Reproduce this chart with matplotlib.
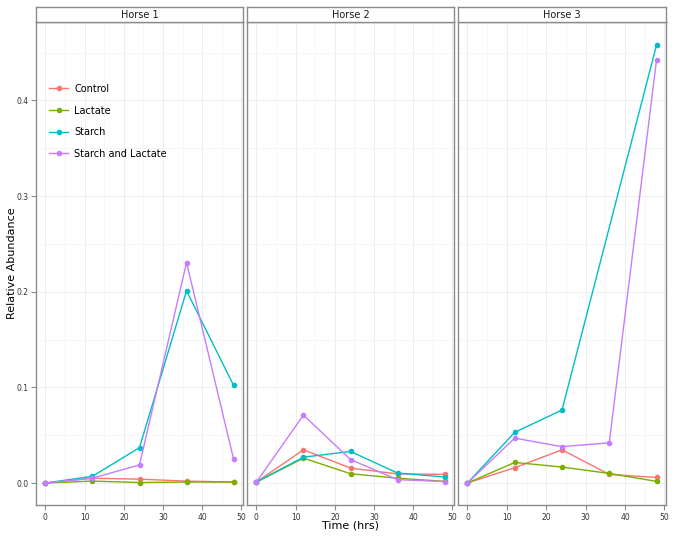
import matplotlib.pyplot as plt

times = [0, 12, 24, 36, 48]
horses = ['Horse 1', 'Horse 2', 'Horse 3']
treatments = ['Control', 'Lactate', 'Starch', 'Starch and Lactate']
colors = ['#F8766D', '#7CAE00', '#00BFC4', '#C77CFF']

# relative abundance per horse (rows) at each time point; None = no sample
control = [[0.0, 0.005, 0.004, 0.002, 0.001],
           [0.001, 0.0347, 0.0156, 0.0095, 0.009],
           [0.0, 0.016, 0.0347, 0.009, 0.0058]]
lactate = [[0.0, 0.002, 0.0005, 0.001, 0.001],
           [0.001, 0.026, 0.0097, 0.005, 0.0017],
           [0.0, 0.0215, 0.0167, 0.010, 0.0017]]
starch = [[0.0, 0.007, 0.037, 0.201, 0.102],
          [0.001, 0.027, 0.033, 0.0104, 0.0063],
          [0.0, 0.053, 0.0763, None, 0.458]]
starch_lactate = [[0.0, 0.005, 0.019, 0.2305, 0.025],
                  [0.001, 0.071, 0.0245, 0.0035, 0.0015],
                  [0.0, 0.0469, 0.038, 0.042, 0.4427]]
series = [control, lactate, starch, starch_lactate]

W, H = 675, 538
fig = plt.figure(figsize=(W / 100, H / 100), dpi=100)
panels = [(36, 243), (247, 454), (458, 666)]
top, bottom, strip_top = 22, 505, 7
border = '#8c8c8c'

for i, (x0, x1) in enumerate(panels):
    ax = fig.add_axes([x0 / W, 1 - bottom / H, (x1 - x0) / W, (bottom - top) / H])
    ax.set_xlim(-2.4, 50.4)
    ax.set_ylim(-0.023, 0.482)
    ax.set_xticks([0, 10, 20, 30, 40, 50])
    ax.set_xticks([5, 15, 25, 35, 45], minor=True)
    ax.set_yticks([0.0, 0.1, 0.2, 0.3, 0.4])
    ax.set_yticks([0.05, 0.15, 0.25, 0.35, 0.45], minor=True)
    ax.grid(which='major', color='#ebebeb', linewidth=0.6)
    ax.grid(which='minor', color='#f5f5f5', linewidth=0.6)
    ax.set_axisbelow(True)
    for s in ax.spines.values():
        s.set_color(border)
        s.set_linewidth(1.0)
    ax.tick_params(which='major', length=3.5, color=border, labelsize=5.5,
                   labelcolor='#333333', pad=2)
    ax.tick_params(which='minor', length=0)
    ax.set_xticklabels(['0', '10', '20', '30', '40', '50'])
    if i == 0:
        ax.set_yticklabels(['0.0', '0.1', '0.2', '0.3', '0.4'])
    else:
        ax.tick_params(axis='y', length=0, labelleft=False)

    for name, c, data in zip(treatments, colors, series):
        xs = [t for t, v in zip(times, data[i]) if v is not None]
        ys = [v for v in data[i] if v is not None]
        ax.plot(xs, ys, color=c, linewidth=1.0, marker='o', markersize=3,
                label=name)

    if i == 0:
        ax.legend(loc='upper left', bbox_to_anchor=(0.02, 0.89), frameon=False,
                  fontsize=7, labelspacing=1.2, handlelength=2.0,
                  handletextpad=0.6)

    # facet strip
    sax = fig.add_axes([x0 / W, 1 - top / H, (x1 - x0) / W, (top - strip_top) / H])
    sax.set_xticks([])
    sax.set_yticks([])
    for s in sax.spines.values():
        s.set_color(border)
        s.set_linewidth(1.0)
    sax.text(0.5, 0.5, horses[i], ha='center', va='center', fontsize=7,
             color='#1a1a1a', transform=sax.transAxes)

fig.text(12 / W, 1 - 263 / H, 'Relative Abundance', rotation=90, ha='center',
         va='center', fontsize=8)
fig.text(351 / W, 1 - 526 / H, 'Time (hrs)', ha='center', va='center', fontsize=8)

plt.savefig('out.png', dpi=100)
